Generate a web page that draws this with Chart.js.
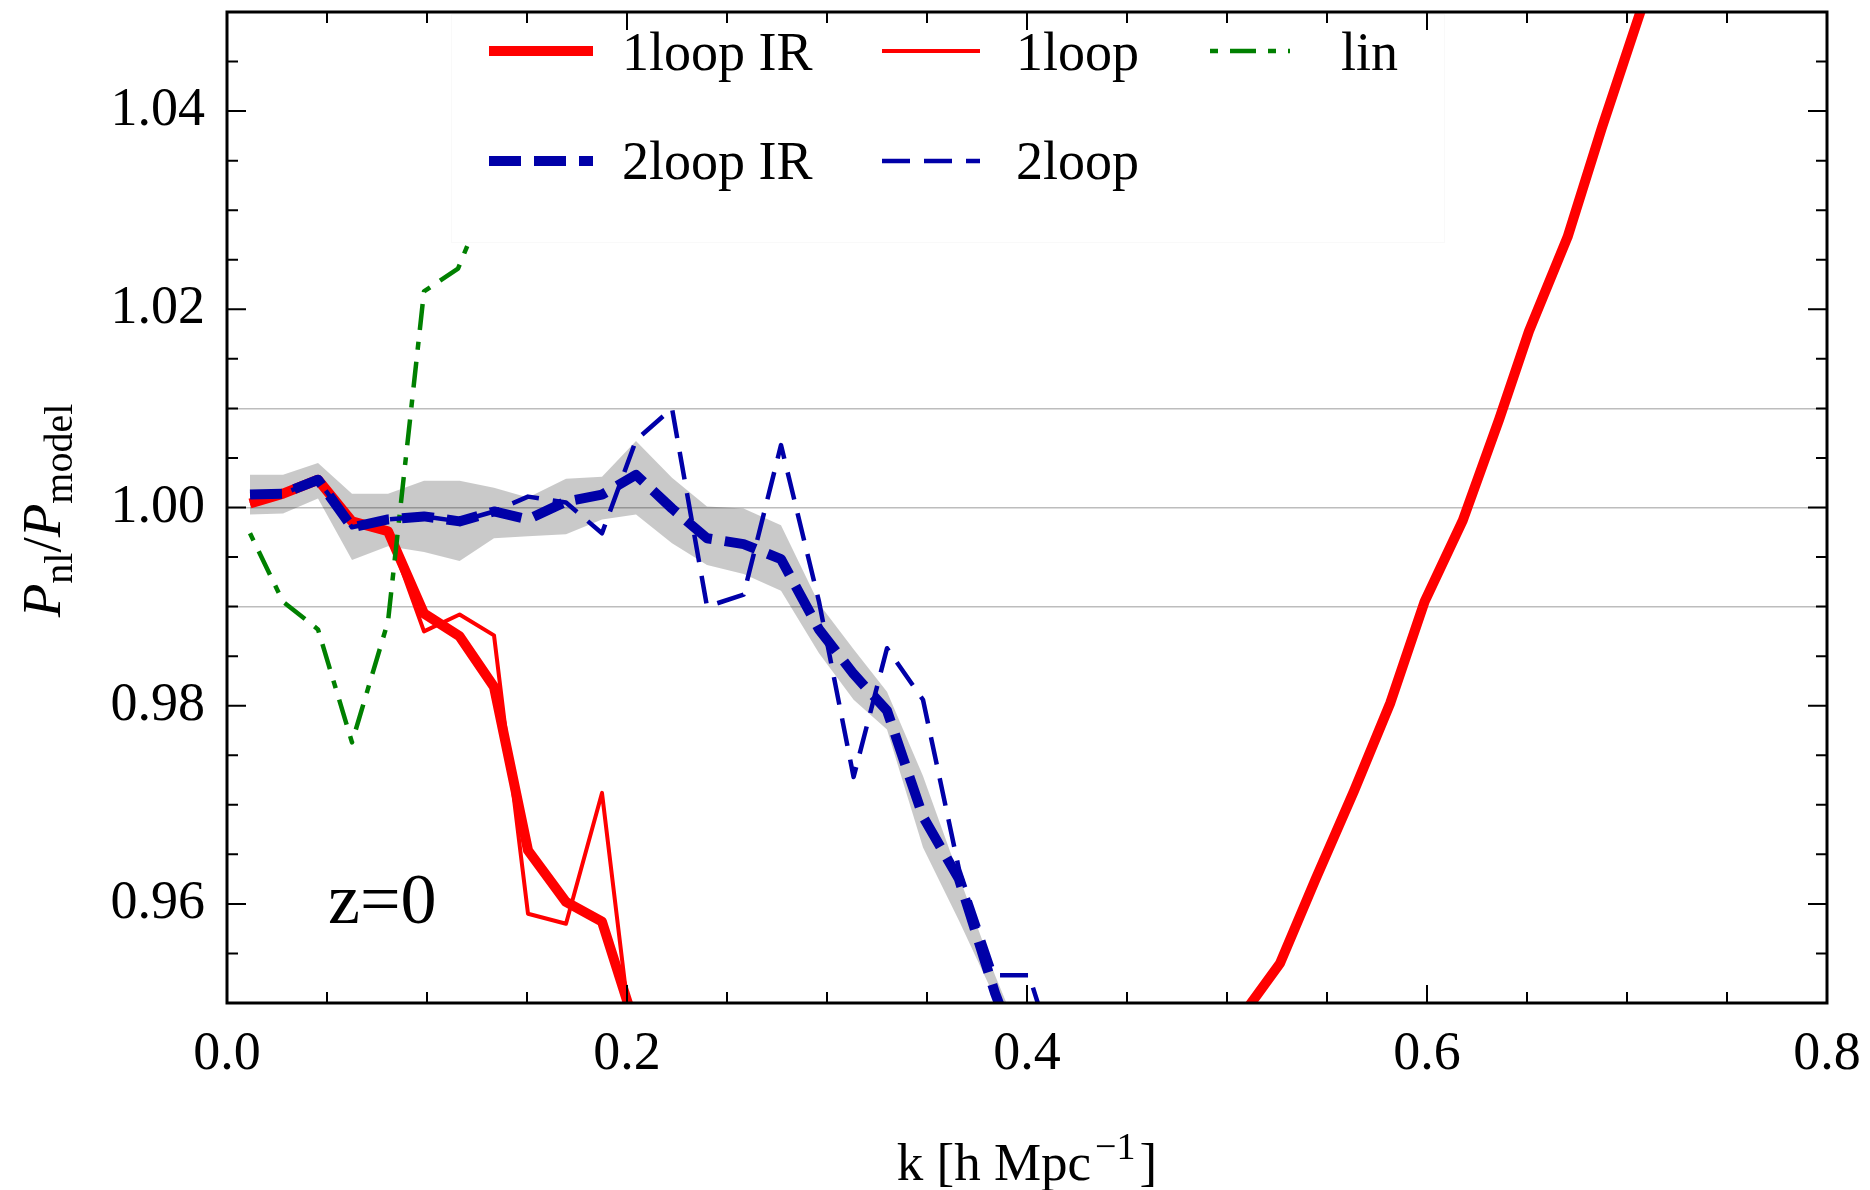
<!DOCTYPE html>
<html>
<head>
<meta charset="utf-8">
<script src="https://cdn.jsdelivr.net/npm/chart.js@4.4.1/dist/chart.umd.min.js"></script>
<style>
  html, body { margin: 0; padding: 0; background: #fff; }
  canvas { display: block; }
</style>
</head>
<body>
<canvas id="ratioChart" width="1870" height="1190"></canvas>
<script>
// k bins of the measured ratio (h/Mpc)
const kBins = [0.0115, 0.028, 0.0455, 0.0625, 0.0805, 0.0985, 0.1163, 0.1335, 0.1505, 0.1695,
               0.1875, 0.2045, 0.2225, 0.2400, 0.2583, 0.2770, 0.2960, 0.3133, 0.3300, 0.3480,
               0.3660, 0.3840, 0.4010, 0.4180];

// error band around the 2-loop IR curve
const bandHi = [1.0033, 1.0033, 1.0045, 1.0014, 1.0014, 1.0027, 1.0027, 1.0020, 1.0010, 1.0029,
                1.0031, 1.0067, 1.0030, 1.0001, 0.9999, 0.9982, 0.9903, 0.9857, 0.9814, 0.9729,
                0.9628, 0.9528, 0.9445];
const bandLo = [0.9993, 0.9994, 1.0009, 0.9947, 0.9961, 0.9955, 0.9946, 0.9969, 0.9971, 0.9973,
                0.9988, 0.9993, 0.9964, 0.9942, 0.9933, 0.9916, 0.9853, 0.9806, 0.9776, 0.9657,
                0.9583, 0.9505, 0.9420];

const twoLoopIR = [1.0013, 1.0014, 1.0028, 0.9980, 0.9988, 0.9991, 0.9986, 0.9996, 0.9988, 1.0006,
                   1.0013, 1.0033, 0.9999, 0.9969, 0.9963, 0.9948, 0.9877, 0.9832, 0.9795, 0.9688,
                   0.9625, 0.9510, 0.9420];
const twoLoop = [1.0013, 1.0014, 1.0028, 0.9980, 0.9988, 0.9991, 0.9986, 0.9996, 1.0011, 1.0005,
                 0.9974, 1.0068, 1.0100, 0.9900, 0.9912, 1.0063, 0.9905, 0.9728, 0.9858, 0.9806,
                 0.9635, 0.9528, 0.9528, 0.9420];

const oneLoopIR = [1.0004, 1.0014, 1.0028, 0.9986, 0.9976, 0.9893, 0.9870, 0.9819, 0.9654, 0.9602,
                   0.9582, 0.9474];
const oneLoop = [1.0004, 1.0014, 1.0028, 0.9986, 0.9976, 0.9875, 0.9892, 0.9871, 0.9590, 0.9580,
                 0.9712, 0.9427];

// 1-loop IR comes back up at high k
const kHigh = [0.5085, 0.5265, 0.5443, 0.5635, 0.5817, 0.5988, 0.6179, 0.6361, 0.6510, 0.6703,
               0.6874, 0.7075];
const oneLoopIRHigh = [0.9490, 0.9540, 0.9625, 0.9714, 0.9803, 0.9905, 0.9987, 1.0089, 1.0178, 1.0273,
                       1.0383, 1.0505];

const kLin = [0.0115, 0.028, 0.0455, 0.0625, 0.0805, 0.0985, 0.1155, 0.1335];
const lin = [0.9974, 0.9905, 0.9877, 0.9763, 0.9885, 1.0218, 1.0241, 1.0330];

const xLabels = [0.0, 0.2, 0.4, 0.6, 0.8];
const yLabels = [0.96, 0.98, 1.00, 1.02, 1.04];
const refLines = [0.99, 1.00, 1.01];

const SERIF = '"Liberation Serif", "Times New Roman", serif';
const pts = (ys, xs) => ys.map((y, i) => ({ x: xs[i], y }));
const near = (list, v) => list.some(t => Math.abs(t - v) < 1e-6);

const RED = '#ff0000', BLUE = '#0000a8', GREEN = '#008000';
const redThick = { borderColor: RED, borderWidth: 10, order: 4 };

const legendRows = [['1loop IR', '1loop', 'lin'], ['2loop IR', '2loop']];

// scale boxes keep a fixed size and no label overhang, so the plot frame lands where we want it
const fixBox = (w, h) => s => {
  if (w) s.width = w;
  if (h) s.height = h;
  s.paddingTop = s.paddingBottom = s.paddingLeft = s.paddingRight = 0;
};

const decor = {
  id: 'decor',
  afterDatasetsDraw(chart) {
    const { ctx } = chart;
    const sets = chart.data.datasets;
    ctx.save();
    // legend panel
    ctx.fillStyle = '#fff';
    ctx.fillRect(451, 14, 993, 228);
    ctx.strokeStyle = '#f9f9f9';
    ctx.lineWidth = 1;
    ctx.strokeRect(451.5, 14.5, 993, 228);

    const lineX = [489, 882, 1210], lineLen = [104, 98, 80], textX = [622, 1016, 1341];
    const lineY = [51, 161], baseY = [70, 179];
    ctx.font = '54px ' + SERIF;
    ctx.fillStyle = '#000';
    ctx.textBaseline = 'alphabetic';
    legendRows.forEach((row, r) => {
      row.forEach((name, c) => {
        const ds = sets.find(d => d.label === name);
        ctx.save();
        ctx.strokeStyle = ds.borderColor;
        ctx.lineWidth = ds.borderWidth;
        ctx.setLineDash(ds.borderDash || []);
        ctx.lineDashOffset = ds.borderDashOffset || 0;
        ctx.beginPath();
        ctx.moveTo(lineX[c], lineY[r]);
        ctx.lineTo(lineX[c] + lineLen[c], lineY[r]);
        ctx.stroke();
        ctx.restore();
        ctx.fillText(name, textX[c], baseY[r]);
      });
    });

    ctx.font = '72px ' + SERIF;
    ctx.fillText('z=0', 328, 923);
    ctx.restore();
  },
  afterDraw(chart) {
    const { ctx, chartArea: a, scales: { x, y } } = chart;
    ctx.save();
    ctx.strokeStyle = '#000';
    ctx.lineWidth = 2;
    ctx.beginPath();
    x.ticks.forEach(t => {
      const px = x.getPixelForValue(t.value);
      const len = t.label ? 18 : 11;
      ctx.moveTo(px, a.bottom); ctx.lineTo(px, a.bottom - len);
      ctx.moveTo(px, a.top); ctx.lineTo(px, a.top + len);
    });
    y.ticks.forEach(t => {
      const py = y.getPixelForValue(t.value);
      const len = t.label ? 19 : 11;
      ctx.moveTo(a.left, py); ctx.lineTo(a.left + len, py);
      ctx.moveTo(a.right, py); ctx.lineTo(a.right - len, py);
    });
    ctx.stroke();
    ctx.lineWidth = 3;
    ctx.strokeRect(a.left, a.top, a.width, a.height);

    // x title: k [h Mpc^-1]
    ctx.fillStyle = '#000';
    ctx.textBaseline = 'alphabetic';
    const main = 'k [h Mpc', sup = '\u22121', tail = ']';
    ctx.font = '53px ' + SERIF;
    const w1 = ctx.measureText(main).width, w3 = ctx.measureText(tail).width;
    ctx.font = '38px ' + SERIF;
    const w2 = ctx.measureText(sup).width;
    let tx = (a.left + a.right) / 2 - (w1 + w2 + w3 + 8) / 2;
    const by = 1180;
    ctx.font = '53px ' + SERIF;
    ctx.fillText(main, tx, by);
    tx += w1 + 4;
    ctx.font = '38px ' + SERIF;
    ctx.fillText(sup, tx, by - 21);
    tx += w2 + 4;
    ctx.font = '53px ' + SERIF;
    ctx.fillText(tail, tx, by);

    // y title: P_nl / P_model, rotated
    const parts = [
      { t: 'P', f: 'italic 55px ' + SERIF, dy: 0 },
      { t: 'nl', f: '40px ' + SERIF, dy: 12 },
      { t: '/', f: '55px ' + SERIF, dy: 0 },
      { t: 'P', f: 'italic 55px ' + SERIF, dy: 0 },
      { t: 'model', f: '40px ' + SERIF, dy: 12 }
    ];
    let total = 0;
    parts.forEach(p => { ctx.font = p.f; p.w = ctx.measureText(p.t).width; total += p.w; });
    ctx.translate(60, (a.top + a.bottom) / 2 + 3);
    ctx.rotate(-Math.PI / 2);
    let cx = -total / 2;
    parts.forEach(p => {
      ctx.font = p.f;
      ctx.fillText(p.t, cx, p.dy);
      cx += p.w;
    });
    ctx.restore();
  }
};

new Chart(document.getElementById('ratioChart').getContext('2d'), {
  type: 'line',
  data: {
    datasets: [
      { label: '2loop IR', data: pts(twoLoopIR, kBins), borderColor: BLUE, borderWidth: 10, borderDash: [32, 13], order: 1 },
      { label: '2loop', data: pts(twoLoop, kBins), borderColor: BLUE, borderWidth: 4.5, borderDash: [28, 14], order: 2 },
      { label: 'lin', data: pts(lin, kLin), borderColor: GREEN, borderWidth: 4.5, borderDash: [26, 12, 8, 12],
        borderDashOffset: 38, order: 3 },
      { label: '1loop IR', data: pts(oneLoopIR, kBins), ...redThick },
      { label: '1loop IR high', data: pts(oneLoopIRHigh, kHigh), ...redThick },
      { label: '1loop', data: pts(oneLoop, kBins), borderColor: RED, borderWidth: 4, order: 5 },
      { label: 'band', data: pts(bandHi, kBins), borderWidth: 0, borderColor: 'rgba(0,0,0,0)',
        backgroundColor: 'rgba(0,0,0,0.21)', fill: '+1', order: 9 },
      { label: 'band low', data: pts(bandLo, kBins), borderWidth: 0, borderColor: 'rgba(0,0,0,0)', fill: false, order: 9 }
    ]
  },
  options: {
    responsive: false,
    devicePixelRatio: 1,
    animation: false,
    layout: { padding: { top: 12, right: 43, bottom: 0, left: 0 } },
    datasets: {
      line: { pointRadius: 0, tension: 0, borderJoinStyle: 'round', clip: 0 }
    },
    plugins: { legend: { display: false }, tooltip: { enabled: false } },
    scales: {
      x: {
        type: 'linear',
        min: 0, max: 0.8,
        afterFit: fixBox(0, 187),
        grid: { display: false, drawTicks: false },
        border: { display: false },
        ticks: {
          stepSize: 0.05, autoSkip: false, maxRotation: 0, padding: 19,
          color: '#000', font: { family: SERIF, size: 54 },
          callback: v => (near(xLabels, v) ? v.toFixed(1) : '')
        }
      },
      y: {
        min: 0.95, max: 1.05,
        afterFit: fixBox(227, 0),
        grid: {
          drawTicks: false,
          lineWidth: 1.5,
          color: c => (near(refLines, c.tick.value) ? '#bdbdbd' : 'rgba(0,0,0,0)')
        },
        border: { display: false },
        ticks: {
          stepSize: 0.005, autoSkip: false, padding: 22,
          color: '#000', font: { family: SERIF, size: 54 },
          callback: v => (near(yLabels, v) ? v.toFixed(2) : '')
        }
      }
    }
  },
  plugins: [decor]
});
</script>
</body>
</html>
